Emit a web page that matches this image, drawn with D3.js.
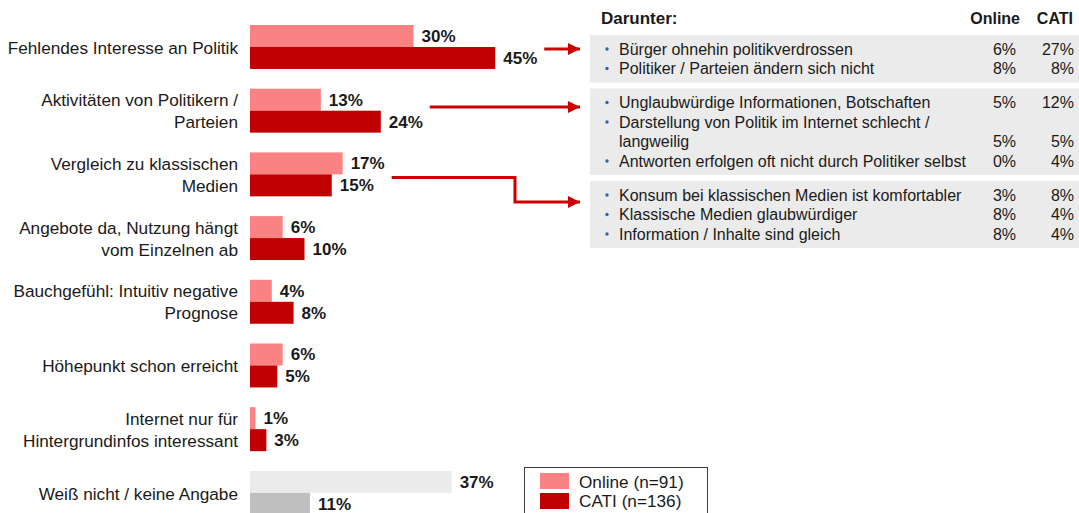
<!DOCTYPE html>
<html>
<head>
<meta charset="utf-8">
<script src="https://cdn.jsdelivr.net/npm/d3@7.9.0/dist/d3.min.js"></script>
<style>
  body { margin: 0; background: #fff; }
  svg { display: block; font-family: 'Liberation Sans', Arial, sans-serif; }
</style>
</head>
<body>
<svg id="chart" width="1079" height="513"></svg>
<script>
// main bars
const categories = [
  ['Fehlendes Interesse an Politik'],
  ['Aktivitäten von Politikern /', 'Parteien'],
  ['Vergleich zu klassischen', 'Medien'],
  ['Angebote da, Nutzung hängt', 'vom Einzelnen ab'],
  ['Bauchgefühl: Intuitiv negative', 'Prognose'],
  ['Höhepunkt schon erreicht'],
  ['Internet nur für', 'Hintergrundinfos interessant'],
  ['Weiß nicht / keine Angabe']
];
const online = [30, 13, 17, 6, 4, 6, 1, 37];
const cati = [45, 24, 15, 10, 8, 5, 3, 11];
const series = ['Online (n=91)', 'CATI (n=136)'];

// "Darunter" detail boxes
const detailHeader = ['Darunter:', 'Online', 'CATI'];
const detail1 = [
  { text: ['Bürger ohnehin politikverdrossen'], online: 6, cati: 27 },
  { text: ['Politiker / Parteien ändern sich nicht'], online: 8, cati: 8 }
];
const detail2 = [
  { text: ['Unglaubwürdige Informationen, Botschaften'], online: 5, cati: 12 },
  { text: ['Darstellung von Politik im Internet schlecht /', 'langweilig'], online: 5, cati: 5 },
  { text: ['Antworten erfolgen oft nicht durch Politiker selbst'], online: 0, cati: 4 }
];
const detail3 = [
  { text: ['Konsum bei klassischen Medien ist komfortabler'], online: 3, cati: 8 },
  { text: ['Klassische Medien glaubwürdiger'], online: 8, cati: 4 },
  { text: ['Information / Inhalte sind gleich'], online: 8, cati: 4 }
];
const detailGroups = [detail1, detail2, detail3];

const colOnline = '#fa8282', colCati = '#c00000';
const greyOnline = '#ebebeb', greyCati = '#bfbfbf';
const arrowRed = '#cc0000';
const ink = '#1a1a1a';

const svg = d3.select('#chart');

const data = categories.map((c, i) => ({ label: c, values: [online[i], cati[i]], idx: i }));

const x = d3.scaleLinear().domain([0, 100]).range([250, 795]);
const y = d3.scaleBand().domain(d3.range(categories.length))
  .range([25, 25 + 63.7 * (categories.length - 0.31)]).paddingInner(0.31);
const ySub = d3.scaleBand().domain([0, 1]).range([0, y.bandwidth()]);

const rows = svg.selectAll('g.row').data(data).join('g')
  .attr('class', 'row')
  .attr('transform', d => `translate(0,${y(d.idx)})`);

rows.selectAll('rect').data(d => d.values.map((v, s) => ({ v, s, last: d.idx === categories.length - 1 })))
  .join('rect')
  .attr('x', x(0))
  .attr('y', d => ySub(d.s))
  .attr('width', d => x(d.v) - x(0))
  .attr('height', ySub.bandwidth())
  .attr('fill', d => d.last ? (d.s ? greyCati : greyOnline) : (d.s ? colCati : colOnline));

rows.selectAll('text.val').data(d => d.values.map((v, s) => ({ v, s })))
  .join('text')
  .attr('class', 'val')
  .attr('x', d => x(d.v) + 8)
  .attr('y', d => ySub(d.s) + ySub.bandwidth() / 2)
  .attr('dy', '0.35em')
  .attr('font-size', 17)
  .attr('font-weight', 'bold')
  .attr('fill', ink)
  .text(d => d.v + '%');

rows.each(function (d) {
  const g = d3.select(this);
  const mid = y.bandwidth() / 2;
  const n = d.label.length;
  d.label.forEach((line, k) => {
    g.append('text')
      .attr('x', 238)
      .attr('y', n === 1 ? mid + 1 : mid + (k === 0 ? -10.5 : 11.5))
      .attr('dy', '0.35em')
      .attr('text-anchor', 'end')
      .attr('font-size', 17.2)
      .attr('fill', ink)
      .text(line);
  });
});

// detail table
const boxX = 590, txtX = 619, onX = 1016, catiX = 1074, pitch = 19.5;
svg.append('text').attr('x', 601).attr('y', 18).attr('dy', '0.35em')
  .attr('font-size', 17).attr('font-weight', 'bold').attr('fill', ink).text(detailHeader[0]);
svg.append('text').attr('x', 1020).attr('y', 18).attr('dy', '0.35em').attr('text-anchor', 'end')
  .attr('font-size', 16).attr('font-weight', 'bold').attr('fill', ink).text(detailHeader[1]);
svg.append('text').attr('x', 1073).attr('y', 18).attr('dy', '0.35em').attr('text-anchor', 'end')
  .attr('font-size', 16).attr('font-weight', 'bold').attr('fill', ink).text(detailHeader[2]);

let boxTop = 35;
detailGroups.forEach(group => {
  const nLines = d3.sum(group, it => it.text.length);
  const h = 28 + (nLines - 1) * pitch;
  const g = svg.append('g');
  g.append('rect').attr('x', boxX).attr('y', boxTop).attr('width', 1079 - boxX).attr('height', h)
    .attr('fill', '#ebebeb');
  let ly = boxTop + 14;
  group.forEach(it => {
    g.append('circle').attr('cx', 607).attr('cy', ly).attr('r', 1.7).attr('fill', '#3c5fa8');
    it.text.forEach((t, k) => {
      g.append('text').attr('x', txtX).attr('y', ly + k * pitch).attr('dy', '0.35em')
        .attr('font-size', 16).attr('fill', ink).text(t);
    });
    const vy = ly + (it.text.length - 1) * pitch;
    g.append('text').attr('x', onX).attr('y', vy).attr('dy', '0.35em').attr('text-anchor', 'end')
      .attr('font-size', 16).attr('fill', ink).text(it.online + '%');
    g.append('text').attr('x', catiX).attr('y', vy).attr('dy', '0.35em').attr('text-anchor', 'end')
      .attr('font-size', 16).attr('fill', ink).text(it.cati + '%');
    ly += it.text.length * pitch;
  });
  boxTop += h + 6;
});

// arrows from rows to boxes
svg.append('defs').append('marker')
  .attr('id', 'arr').attr('viewBox', '0 0 10 10').attr('refX', 10).attr('refY', 5)
  .attr('markerUnits', 'userSpaceOnUse').attr('markerWidth', 13).attr('markerHeight', 12)
  .attr('orient', 'auto')
  .append('path').attr('d', 'M0,0L10,5L0,10Z').attr('fill', arrowRed);

const rowMid = i => y(i) + y.bandwidth() / 2;
const arrowRows = [0, 1, 2];
const arrowEndY = [49, 107, 202];
arrowRows.forEach((r, k) => {
  const sx = x(Math.max(online[r], cati[r])) + 49;
  const sy = k === 2 ? rowMid(r) + 3 : arrowEndY[k];
  const ex = boxX - 10;
  const pts = k === 2
    ? [[sx, sy], [515, sy], [515, arrowEndY[k]], [ex, arrowEndY[k]]]
    : [[sx, sy], [ex, sy]];
  svg.append('path').attr('d', d3.line()(pts)).attr('fill', 'none')
    .attr('stroke', arrowRed).attr('stroke-width', 3).attr('marker-end', 'url(#arr)');
});

// legend
const lg = svg.append('g');
lg.append('rect').attr('x', 524.5).attr('y', 467.5).attr('width', 183).attr('height', 50)
  .attr('fill', '#fff').attr('stroke', '#404040').attr('stroke-width', 1);
series.forEach((s, i) => {
  lg.append('rect').attr('x', 540).attr('y', 473 + i * 20).attr('width', 29).attr('height', 16)
    .attr('fill', i ? colCati : colOnline);
  lg.append('text').attr('x', 579).attr('y', 482 + i * 19).attr('dy', '0.35em')
    .attr('font-size', 17.2).attr('fill', ink).text(s);
});
</script>
</body>
</html>
